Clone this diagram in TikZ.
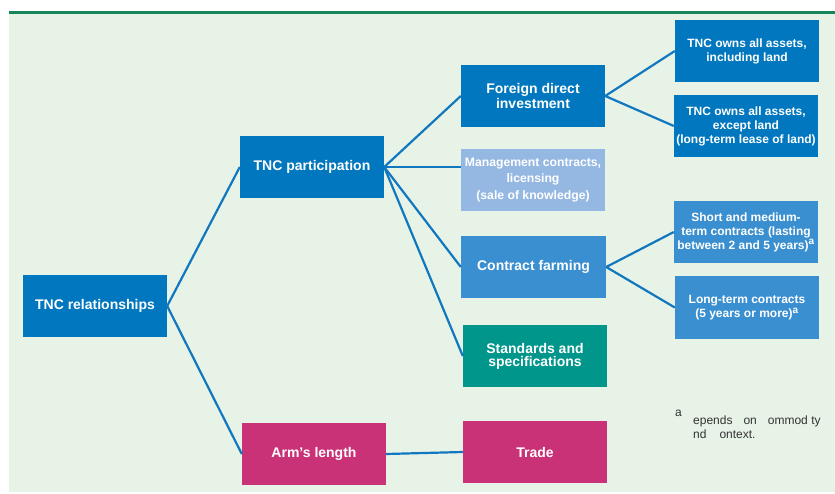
\documentclass[tikz,border=0pt]{standalone}
\usepackage{fontspec}
\setmainfont{Liberation Sans}
\definecolor{dblue}{HTML}{0077BE}
\definecolor{lblue}{HTML}{95B8E3}
\definecolor{mblue}{HTML}{3A8FD0}
\definecolor{teal1}{HTML}{00968C}
\definecolor{mag}{HTML}{C93276}
\definecolor{bggreen}{HTML}{E7F3E7}
\definecolor{topline}{HTML}{17875A}
\definecolor{conn}{HTML}{1177BF}
\definecolor{foot}{HTML}{333333}
\tikzset{
  box/.style={rectangle, minimum width=144pt, minimum height=62pt, inner sep=2pt,
    text=white, align=center, font=\fontsize{14}{15.5}\selectfont\bfseries},
  smallbox/.style={box, font=\fontsize{12}{14}\selectfont\bfseries},
  midbox/.style={box, font=\fontsize{12.2}{16.5}\selectfont\bfseries},
  link/.style={draw=conn, line width=2.2pt}
}
\begin{document}
\begin{tikzpicture}[x=1pt,y=-1pt]
\useasboundingbox (0,0) rectangle (835,494);
\fill[bggreen] (9,13) rectangle (835,492);
\fill[topline] (9,11) rectangle (835,14);

\node[box, fill=dblue] (rel) at (95,306) {TNC relationships};
\node[box, fill=dblue] (part) at (312,167) {TNC participation};
\node[box, fill=mag] (arm) at (314,454) {Arm\char39 s length};
\node[box, fill=dblue] (fdi) at (533,96) {Foreign direct\\investment};
\node[midbox, fill=lblue] (mgmt) at (533,180) {Management contracts,\\licensing\\(sale of knowledge)};
\node[box, fill=mblue, minimum width=145pt] (cf) at (533.5,267) {Contract farming};
\node[box, fill=teal1, font=\fontsize{14}{13}\selectfont\bfseries] (std) at (535,356) {Standards and\\specifications};
\node[box, fill=mag] (trade) at (535,452) {Trade};
\node[smallbox, fill=dblue] (own1) at (747,51) {TNC owns all assets,\\including land};
\node[smallbox, fill=dblue] (own2) at (746,126) {TNC owns all assets,\\except land\\(long-term lease of land)};
\node[smallbox, fill=mblue] (short) at (746,232) {Short and medium-\\term contracts (lasting\\between 2 and 5 years)\textsuperscript{\fontsize{10}{10}\selectfont a}};
\node[smallbox, fill=mblue] (long) at (747,307.5) {Long-term contracts\\(5 years or more)\textsuperscript{\fontsize{10}{10}\selectfont a}};

\draw[link] (rel.east) -- (part.west);
\draw[link] (rel.east) -- (arm.west);
\draw[link] (part.east) -- (fdi.west);
\draw[link] (part.east) -- (mgmt.west |- part.east);
\draw[link] (part.east) -- (cf.west);
\draw[link] (part.east) -- (std.west);
\draw[link] (arm.east) -- (trade.west);
\draw[link] (fdi.east) -- (own1.west);
\draw[link] (fdi.east) -- (own2.west);
\draw[link] (cf.east) -- (short.west);
\draw[link] (cf.east) -- (long.west);

\node[text=foot, font=\fontsize{12}{13}\selectfont, anchor=north west, inner sep=0pt] (fnm) at (675,410) {a};
\node[text=foot, font=\fontsize{12}{14}\selectfont, anchor=north west, align=left, inner sep=0pt] (fnt) at (693,416)
  {epends\hspace*{11pt}on\hspace*{11pt}ommod ty\\nd\hspace*{13pt}ontext.};
\end{tikzpicture}
\end{document}
